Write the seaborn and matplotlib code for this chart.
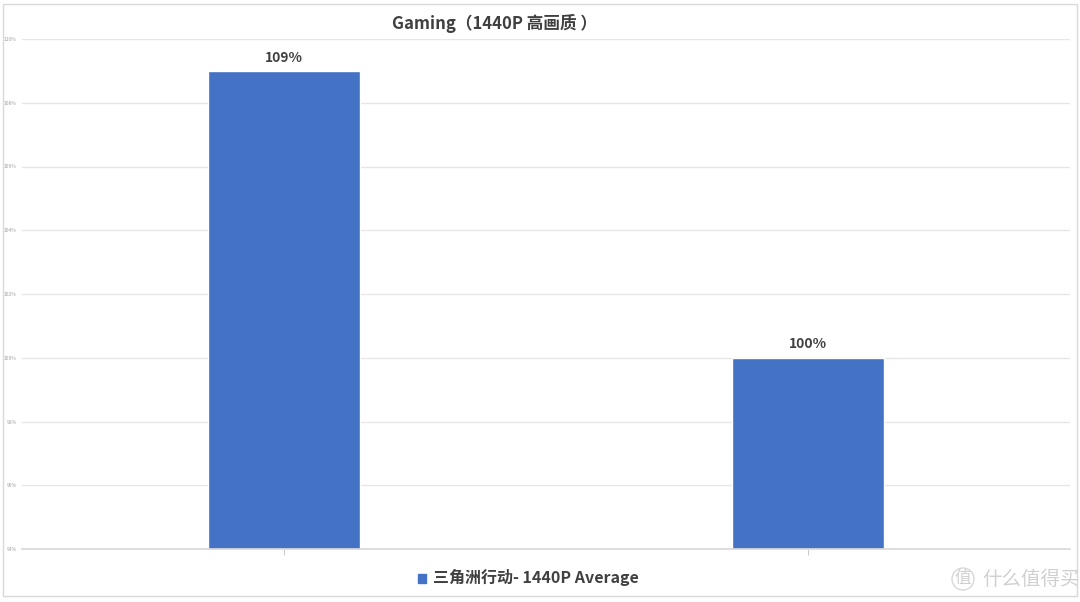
import seaborn as sns
import pandas as pd
from matplotlib import pyplot as plt
from matplotlib.patches import Rectangle

# data
categories = ["A", "B"]
values = [109, 100]
bar_labels = ["109%", "100%"]
series_name = "三角洲行动- 1440P Average"
y_ticks = [94, 96, 98, 100, 102, 104, 106, 108, 110]
y_tick_labels = ["94%", "96%", "98%", "100%", "102%", "104%", "106%", "108%", "110%"]

sns.set_theme(style="white")
plt.rcParams['font.family'] = ['Noto Sans CJK SC', 'DejaVu Sans']

df = pd.DataFrame({"cat": categories, "val": values, "series": series_name})

fig = plt.figure(figsize=(10.8, 6.02), dpi=100)
ax = fig.add_axes([22 / 1080, 53 / 602, 1048 / 1080, 510 / 602])

sns.barplot(data=df, x="cat", y="val", hue="series", palette=["#4472C4"],
            saturation=1, width=0.29, ax=ax, legend=False)

ax.set_xlim(-0.5, 1.5)
ax.set_ylim(94, 110)
ax.set_yticks(y_ticks)
ax.set_yticklabels(y_tick_labels, fontsize=3.5, color="#a0a0a0")
ax.set_xticks([0, 1])
ax.set_xticklabels(["", ""])
ax.tick_params(axis="y", length=0, pad=4)
ax.tick_params(axis="x", length=4, width=0.6, color="#bfbfbf", bottom=True)
ax.grid(axis="y", color="#e6e6e6", linewidth=1)
ax.set_axisbelow(True)
for s in ["top", "right", "left"]:
    ax.spines[s].set_visible(False)
ax.spines["bottom"].set_color("#d9d9d9")
ax.set_xlabel("")
ax.set_ylabel("")

for i, (v, lab) in enumerate(zip(values, bar_labels)):
    ax.text(i, v + 0.2, lab, ha="center", va="bottom", fontsize=10,
            fontweight="bold", color="#404040")

fig.text(495 / 1080, 1 - 23 / 602, "Gaming（1440P 高画质 ）", ha="center", va="center",
         fontsize=12, fontweight="bold", color="#404040")

# legend
fig.patches.append(Rectangle((418 / 1080, 1 - 583 / 602), 8 / 1080, 9 / 602,
                             transform=fig.transFigure, color="#4472C4"))
fig.text(433 / 1080, 1 - 578 / 602, series_name, ha="left", va="center",
         fontsize=11.5, fontweight="bold", color="#404040")

# watermark
fig.text(963 / 1080, 1 - 579 / 602, "值", ha="center", va="center", fontsize=12,
         color="#d0d0d0",
         bbox=dict(boxstyle="circle,pad=0.15", fc="none", ec="#d8d8d8", lw=1))
fig.text(982 / 1080, 1 - 579 / 602, "什么值得买", ha="left", va="center",
         fontsize=14, color="#d0d0d0")

# chart frame
fig.patches.append(Rectangle((3 / 1080, 6 / 602), 1074 / 1080, 592 / 602,
                             transform=fig.transFigure, fill=False,
                             ec="#d9d9d9", lw=1))

fig.savefig("out.png", dpi=100)
